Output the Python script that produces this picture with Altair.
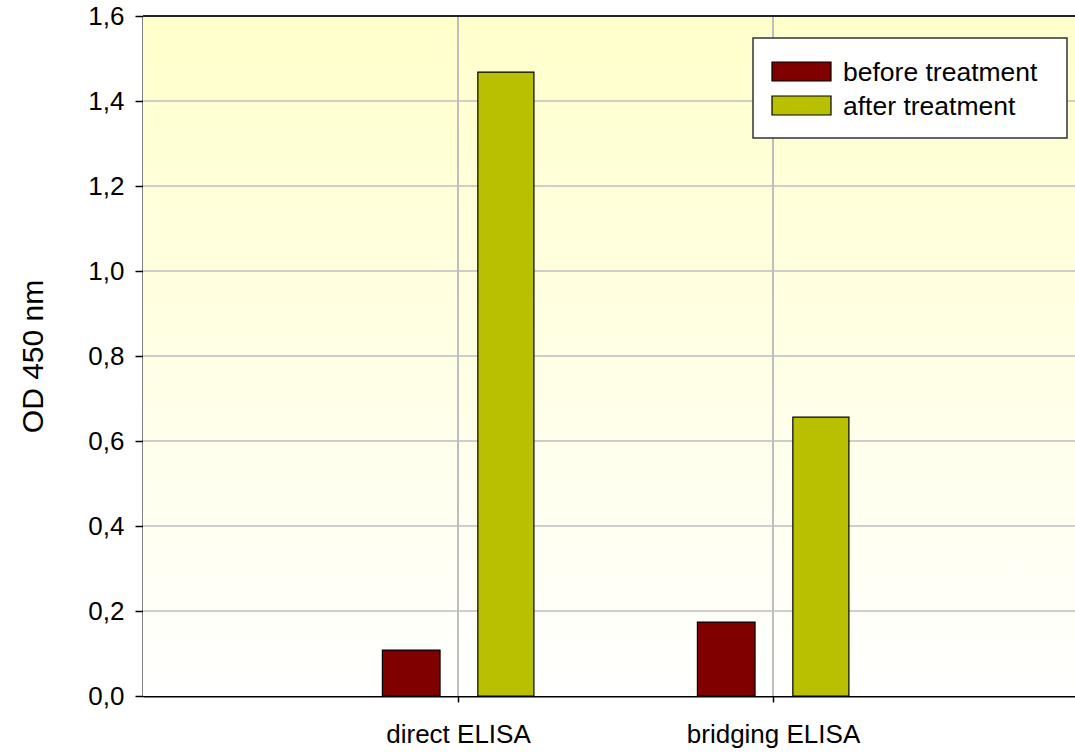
import altair as alt
import pandas as pd

# Assays on the category axis and the two measurement series
assays = ["direct ELISA", "bridging ELISA"]
series = ["before treatment", "after treatment"]
before_values = [0.108, 0.174]
after_values = [1.468, 0.656]
series_colors = ["#800000", "#B9C000"]

# Value axis ticks
y_ticks = [0.0, 0.2, 0.4, 0.6, 0.8, 1.0, 1.2, 1.4, 1.6]
y_max = 1.6

FONT = "Liberation Sans"
W, H = 932, 680

rows = []
for i, assay in enumerate(assays):
    for s, vals in zip(series, [before_values, after_values]):
        rows.append({"assay": assay, "series": s, "value": vals[i], "pos": i + 1})
bars_df = pd.DataFrame(rows)

x_scale = alt.Scale(domain=[0, W / 315], nice=False, zero=False)
y_scale = alt.Scale(domain=[0, y_max], nice=False)

label_array = "[''," + ",".join(f"'{a}'" for a in assays) + "]"

# Plot-area background: pale yellow fading to white
background = alt.Chart(pd.DataFrame({"k": [0]})).mark_rect(
    fill=alt.Gradient(
        gradient="linear",
        stops=[alt.GradientStop(color="#FFFFCC", offset=0),
               alt.GradientStop(color="#FFFFFF", offset=1)],
        x1=0, x2=0, y1=0, y2=1,
    )
).encode(x=alt.value(0), x2=alt.value(W), y=alt.value(0), y2=alt.value(H))

# Horizontal grid lines
hgrid = alt.Chart(pd.DataFrame({"t": y_ticks[1:-1]})).mark_rule(
    color="#BEBEBE", strokeWidth=1.5
).encode(y=alt.Y("t:Q", scale=y_scale))

# Vertical grid lines at the assay positions
vgrid = alt.Chart(pd.DataFrame({"p": list(range(1, len(assays) + 1))})).mark_rule(
    color="#BEBEBE", strokeWidth=2
).encode(x=alt.X("p:Q", scale=x_scale))

# Top border of the plot area
top_line = alt.Chart(pd.DataFrame({"t": [y_max]})).mark_rule(
    color="#222222", strokeWidth=2
).encode(y=alt.Y("t:Q", scale=y_scale))

bars = alt.Chart(bars_df).transform_calculate(
    x_lo="datum.pos + (datum.series == '" + series[0] + "' ? -0.24 : 0.063)",
    x_hi="datum.pos + (datum.series == '" + series[0] + "' ? -0.057 : 0.241)",
).mark_bar(stroke="black", strokeWidth=1.2).encode(
    x=alt.X(
        "x_lo:Q",
        scale=x_scale,
        axis=alt.Axis(
            values=list(range(1, len(assays) + 1)),
            labelExpr=label_array + "[datum.value]",
            title=None,
            grid=False,
            domainColor="black",
            domainWidth=2,
            tickColor="black",
            tickWidth=1.5,
            tickSize=6,
            labelFont=FONT,
            labelFontSize=26,
            labelColor="black",
            labelPadding=19,
        ),
    ),
    x2="x_hi:Q",
    y=alt.Y(
        "value:Q",
        scale=y_scale,
        axis=alt.Axis(
            values=y_ticks,
            labelExpr="replace(format(datum.value, '.1f'), '.', ',')",
            title="OD 450 nm",
            titleFont=FONT,
            titleFontSize=30,
            titleFontWeight="normal",
            titleColor="black",
            titleAngle=-90,
            titleX=-110,
            titleY=H / 2,
            titleAlign="center",
            titleBaseline="middle",
            grid=False,
            domainColor="black",
            domainWidth=2,
            tickColor="black",
            tickWidth=1.5,
            tickSize=8,
            labelFont=FONT,
            labelFontSize=26,
            labelColor="black",
            labelPadding=11,
        ),
    ),
    y2=alt.datum(0),
    color=alt.Color(
        "series:N",
        scale=alt.Scale(domain=series, range=series_colors),
        legend=None,
    ),
)

# Legend box with one swatch and label per series
one = pd.DataFrame({"k": [0]})
legend_layers = [
    alt.Chart(one).mark_rect(fill="white", stroke="#333333", strokeWidth=1.5).encode(
        x=alt.value(610), x2=alt.value(924), y=alt.value(22), y2=alt.value(122)
    )
]
for i, (name, col) in enumerate(zip(series, series_colors)):
    top = 46 + 34 * i
    legend_layers.append(
        alt.Chart(one).mark_rect(fill=col, stroke="black", strokeWidth=1.2).encode(
            x=alt.value(629), x2=alt.value(688), y=alt.value(top), y2=alt.value(top + 19)
        )
    )
    legend_layers.append(
        alt.Chart(one).mark_text(
            align="left", baseline="middle", font=FONT, fontSize=26.5, color="black"
        ).encode(x=alt.value(700), y=alt.value(top + 11), text=alt.value(name))
    )

chart = alt.layer(
    background, hgrid, vgrid, top_line, bars, *legend_layers
).properties(
    width=W,
    height=H,
    padding={"left": 143, "top": 16, "right": 0, "bottom": 57},
    autosize=alt.AutoSizeParams(type="none"),
).configure_view(stroke=None).configure(background="white")

chart.save("out.html", embed_options={"renderer": "svg", "actions": False})
